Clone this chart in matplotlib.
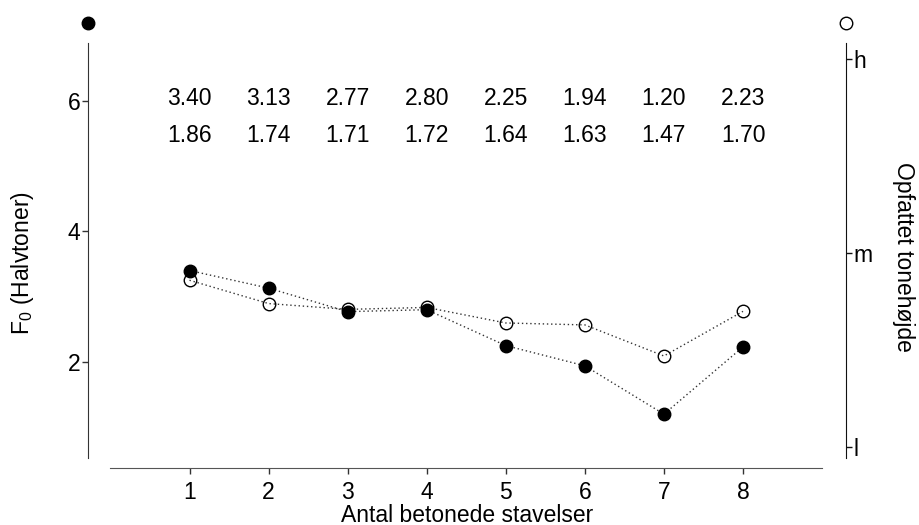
import matplotlib
matplotlib.use("Agg")
import matplotlib.pyplot as plt

plt.rcParams['font.family'] = ['Liberation Sans', 'DejaVu Sans']
plt.rcParams['mathtext.default'] = 'regular'

# Data
stressed = [1, 2, 3, 4, 5, 6, 7, 8]
f0_semitones = [3.40, 3.13, 2.77, 2.80, 2.25, 1.94, 1.20, 2.23]
perceived_pitch = [1.86, 1.74, 1.71, 1.72, 1.64, 1.63, 1.47, 1.70]
f0_labels = ["3.40", "3.13", "2.77", "2.80", "2.25", "1.94", "1.20", "2.23"]
pitch_labels = ["1.86", "1.74", "1.71", "1.72", "1.64", "1.63", "1.47", "1.70"]
left_ticks = [2, 4, 6]
right_ticks = [1, 2, 3]
right_ticklabels = ["l", "m", "h"]

FS = 16.5
fig = plt.figure(figsize=(9.2, 5.25), dpi=100)
ax = fig.add_axes([88/920, (525-458.3)/525, 758/920, 415.3/525])
ax2 = ax.twinx()

ax.set_xlim(-0.2837, 9.3026)
ax.set_ylim(0.524, 6.884)
ax2.set_ylim(0.943, 3.082)

# open circles on right axis
ax2.plot(stressed, perceived_pitch, linestyle=(0, (1, 2)), color='#333333', lw=1.0,
         marker='o', ms=9, mfc='none', mec='black', mew=1.0, zorder=2)
# filled circles on left axis, drawn above
ax.set_zorder(ax2.get_zorder() + 1)
ax.patch.set_visible(False)
ax.plot(stressed, f0_semitones, linestyle=(0, (1, 2)), color='#333333', lw=1.0,
        marker='o', ms=9, mfc='black', mec='black', zorder=3)

# value rows
for x, a, b in zip(stressed, f0_labels, pitch_labels):
    ax.text(x, 6.03, a, ha='center', va='center', fontsize=FS)
    ax.text(x, 5.46, b, ha='center', va='center', fontsize=FS)

# legend-like markers above the axes
ax.plot([0], [1.049], marker='o', ms=9, mfc='black', mec='black',
        transform=ax.transAxes, clip_on=False)
ax.plot([1], [1.049], marker='o', ms=9, mfc='none', mec='black', mew=1.0,
        transform=ax.transAxes, clip_on=False)

# spines
for s in ['top', 'right']:
    ax.spines[s].set_visible(False)
for s in ['top', 'left', 'bottom']:
    ax2.spines[s].set_visible(False)
ax.spines['left'].set_color('#333333')
ax.spines['bottom'].set_color('#555555')
ax.spines['bottom'].set_position(('outward', 7))
ax.spines['bottom'].set_bounds(0, 9)
ax2.spines['right'].set_color('#111111')

ax.set_xticks(stressed)
ax.set_xticklabels([str(v) for v in stressed])
ax.set_yticks(left_ticks)
ax2.set_yticks(right_ticks)
ax2.set_yticklabels(right_ticklabels)

ax.tick_params(axis='x', length=4, width=1, pad=5, labelsize=FS, color='#333333')
ax.tick_params(axis='y', length=4.5, width=1, pad=1, labelsize=FS, color='#333333')
ax2.tick_params(axis='y', length=4.5, width=1, pad=1, labelsize=FS, color='#111111')

ax.set_xlabel("Antal betonede stavelser", fontsize=FS, labelpad=0)
ax.set_ylabel("F$_0$ (Halvtoner)", fontsize=FS)
ax.yaxis.set_label_coords(-52/758, (458.3-263)/415.3)
ax2.set_ylabel("Opfattet tonehøjde", fontsize=FS, rotation=270, va='center')
ax2.yaxis.set_label_coords(1 + 58/758, (458.3-257)/415.3)

fig.savefig("out.png", dpi=100)
